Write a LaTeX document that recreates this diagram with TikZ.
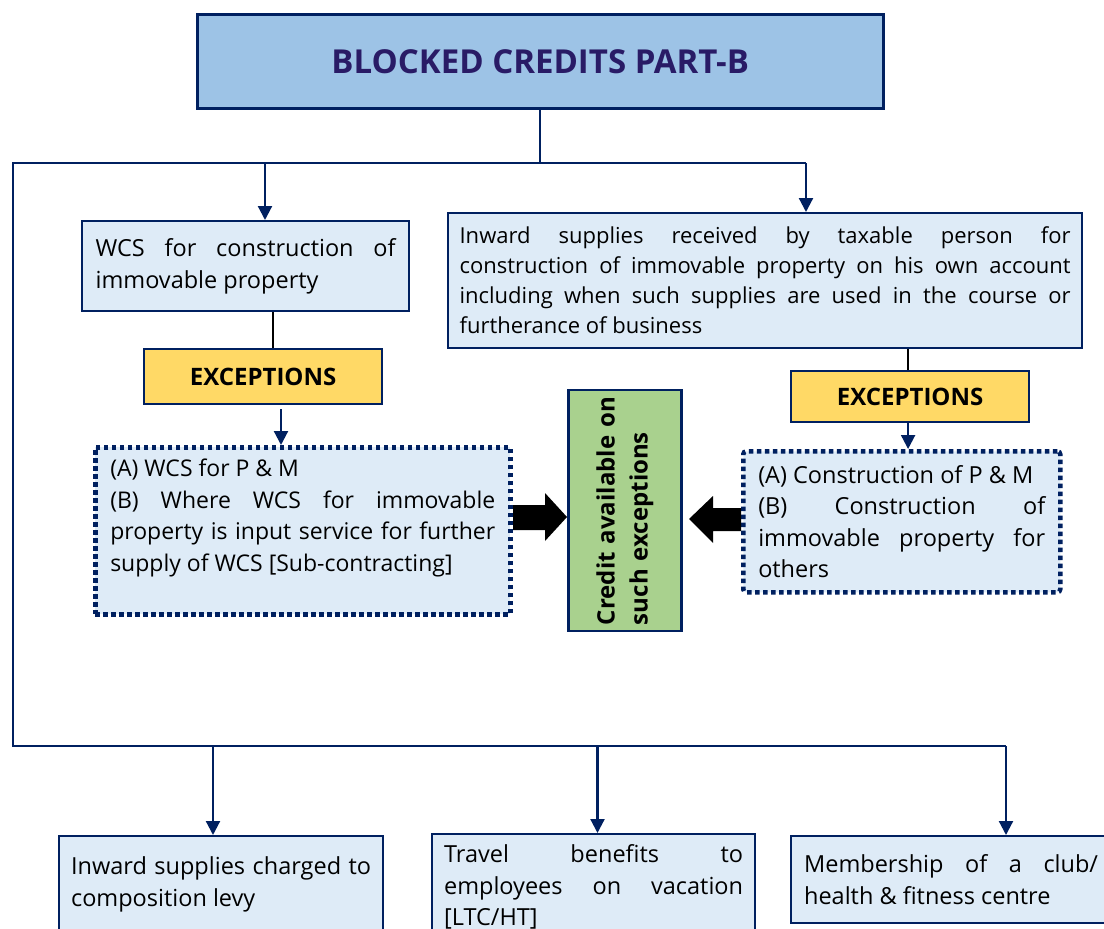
\documentclass[tikz,border=0pt]{standalone}
\usepackage{fontspec}
\setmainfont{Open Sans}
\usetikzlibrary{arrows.meta,calc}
\definecolor{navy}{HTML}{002060}
\definecolor{hdr}{HTML}{9DC3E6}
\definecolor{lite}{HTML}{DEEBF7}
\definecolor{yel}{HTML}{FFD966}
\definecolor{grn}{HTML}{A9D18E}
\definecolor{ttl}{RGB}{41,27,102}
\newcommand\jl[1]{\makebox[\linewidth][s]{#1}\\\relax}
\newcommand\tb[3][23.5]{\parbox{#2}{\fontsize{#1}{31.5}\selectfont #3}}
\begin{document}
\begin{tikzpicture}[x=1pt,y=-1pt,
  box/.style={draw=navy,line width=2.2pt,fill=lite,anchor=north west,inner sep=0pt},
  dotbox/.style={box,line width=4.5pt,dash pattern=on 4.5pt off 3.5pt},
  excbox/.style={draw=navy,line width=2.2pt,fill=yel,anchor=north west,inner sep=0pt,
    font=\fontsize{24}{28}\selectfont\bfseries},
  bus/.style={draw=navy,line width=2.2pt},
  blk/.style={draw=black,line width=1.6pt},
  arr/.style={draw=navy,line width=2.2pt,-{Triangle[width=14pt,length=14pt]}},
  blockarrow/.style={fill=black}
]
\useasboundingbox (0,0) rectangle (1104,929);
\clip (0,0) rectangle (1104,929);

% title
\node[draw=navy,line width=2.5pt,fill=hdr,anchor=north west,minimum width=686pt,minimum height=94pt,
  text=ttl,font=\fontsize{33}{38}\selectfont\bfseries] (top) at (196,13) {BLOCKED CREDITS PART-B};

% upper row
\node[box,minimum width=327pt,minimum height=90pt] (wcs) at (81,220)
  {\tb{300pt}{\jl{WCS for construction of}immovable property}};
\node[box,minimum width=634pt,minimum height=135pt] (rbox) at (447,212)
  {\tb[22]{611pt}{\baselineskip=30pt\jl{Inward supplies received by taxable person for}\jl{construction of immovable property on his own account}\jl{including when such supplies are used in the course or}furtherance of business}};

\node[excbox,minimum width=238pt,minimum height=55pt] (lexc) at (143,348) {EXCEPTIONS};
\node[excbox,minimum width=238pt,minimum height=51pt] (rexc) at (790,370) {EXCEPTIONS};

\node[dotbox,inner xsep=15pt,inner ysep=12pt] (ldot) at (93,445)
  {\parbox[c][143pt][t]{385pt}{\fontsize{23}{31.5}\selectfont (A) WCS for P \& M\\\jl{(B) Where WCS for immovable}\jl{property is input service for further}supply of WCS [Sub-contracting]}};
\node[dotbox,rounded corners=3pt,minimum width=317pt,minimum height=141pt] (rdot) at (741,449)
  {\tb{287pt}{(A) Construction of P \& M\\\jl{(B) Construction of}\jl{immovable property for}others}};

\node[draw=navy,line width=2.2pt,fill=grn,rotate=90,minimum width=241pt,minimum height=113pt,
  text width=229pt,inner xsep=6pt,align=left,font=\fontsize{24}{33}\selectfont\bfseries] (grn) at (625,510.5)
  {Credit available on\\such exceptions};

% block arrows
\fill[blockarrow] (513,505) -- (545,505) -- (545,493) -- (567,517) -- (545,541) -- (545,530) -- (513,530) -- cycle;
\fill[blockarrow] (741,508) -- (713,508) -- (713,496) -- (689,519) -- (713,543) -- (713,531) -- (741,531) -- cycle;

% bottom row
\node[box,minimum width=324pt,minimum height=97pt] (b1) at (58,835)
  {\tb{300pt}{\jl{Inward supplies charged to}composition levy}};
\node[box,minimum width=323pt,minimum height=106pt] (b2) at (431,833)
  {\tb{299pt}{\jl{Travel benefits to}\jl{employees on vacation}{[LTC/HT]}}};
\node[box,minimum width=320pt,minimum height=87pt] (b3) at (790,835)
  {\tb{294pt}{\jl{Membership of a club/}health \& fitness centre}};

% buses
\coordinate (t1) at (13,163);
\coordinate (t2) at (806,163);
\coordinate (ta) at (265,163);
\coordinate (u1) at (13,746);
\coordinate (u2) at (1006,746);
\coordinate (ua) at (213,746);
\coordinate (ub) at (597.5,746);

\draw[bus] (top.south) -- (top.south |- t1);
\draw[bus] (t2) -- (t1) -- (u1) -- (u2);
\draw[arr] (ta) -- (ta |- wcs.north);
\draw[arr] (t2) -- (t2 |- rbox.north);
\draw[arr] (ua) -- (ua |- b1.north);
\draw[arr] (ub) -- (ub |- b2.north);
\draw[arr] (u2) -- (u2 |- b3.north);

% exception links
\draw[blk] ([xshift=192pt]wcs.south west) -- ([xshift=130pt]lexc.north west);
\draw[arr] ([xshift=138pt,yshift=-4pt]lexc.south west) -- ([xshift=188pt]ldot.north west);
\draw[blk] ([xshift=-2pt]rexc.north |- rbox.south) -- ([xshift=-2pt]rexc.north);
\draw[arr] ([xshift=-2pt]rexc.south) -- ([xshift=-2pt]rexc.south |- rdot.north);
\end{tikzpicture}
\end{document}
